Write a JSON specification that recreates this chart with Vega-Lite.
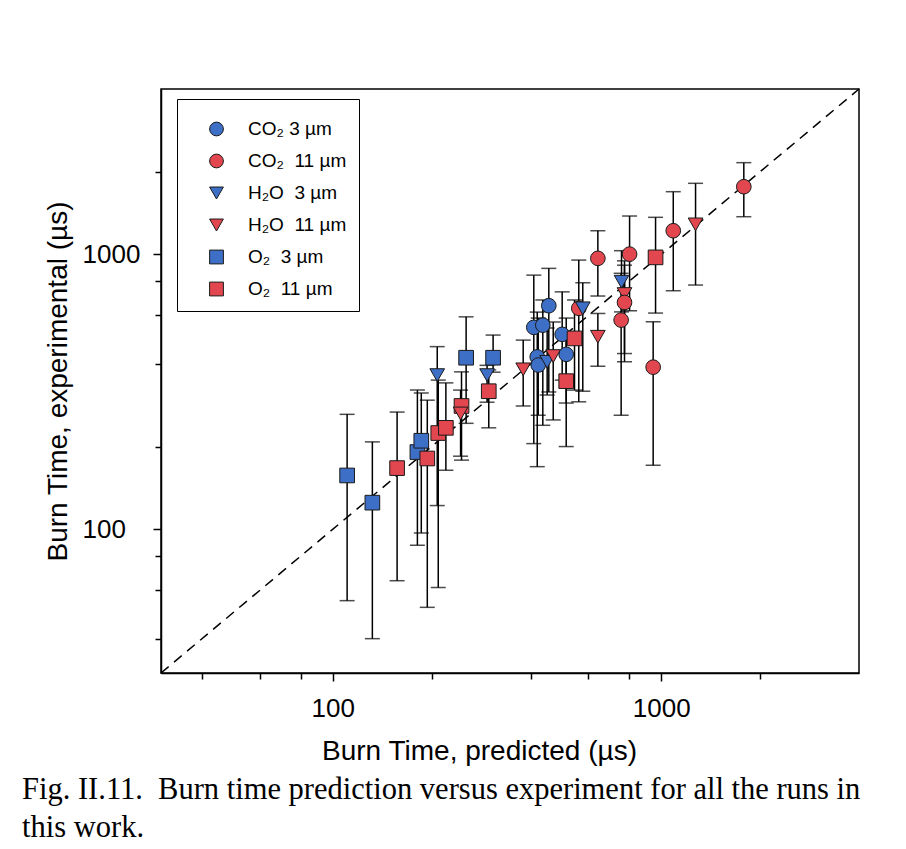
{
  "$schema": "https://vega.github.io/schema/vega-lite/v6.json",
  "width": 698,
  "height": 584,
  "autosize": {"type": "none"},
  "padding": {"left": 161, "top": 89, "right": 47, "bottom": 176},
  "background": "white",
  "config": {
    "font": "Liberation Sans",
    "view": {"stroke": "black", "strokeWidth": 1.5},
    "axis": {
      "grid": false,
      "domainColor": "black",
      "domainWidth": 1.5,
      "tickColor": "black",
      "tickWidth": 1.5,
      "labelColor": "black",
      "labelFont": "Liberation Sans",
      "labelFontSize": 26,
      "labelOverlap": false,
      "labelFlush": false,
      "labelBound": false,
      "titleColor": "black",
      "titleFont": "Liberation Sans",
      "titleFontSize": 28,
      "titleFontWeight": "normal"
    }
  },
  "title": {
    "text": ["Fig. II.11.\u00a0 Burn time prediction versus experiment for all the runs in", "this work."],
    "orient": "bottom",
    "anchor": "start",
    "frame": "group",
    "font": "Liberation Serif",
    "fontSize": 30.5,
    "fontWeight": "normal",
    "color": "black",
    "lineHeight": 38,
    "dx": -139,
    "offset": 10
  },
  "datasets": {
    "runs": [
      {"series": "O₂\u00a0 3 µm", "x": 110.6, "y": 157, "lo": 55, "hi": 262},
      {"series": "O₂\u00a0 3 µm", "x": 132, "y": 125, "lo": 40, "hi": 208},
      {"series": "O₂\u00a0 11 µm", "x": 157, "y": 167, "lo": 65, "hi": 267},
      {"series": "O₂\u00a0 3 µm", "x": 181, "y": 191, "lo": 87.5, "hi": 321},
      {"series": "O₂\u00a0 3 µm", "x": 186, "y": 210, "lo": 97, "hi": 313},
      {"series": "O₂\u00a0 11 µm", "x": 194, "y": 181, "lo": 52, "hi": 295},
      {"series": "O₂\u00a0 11 µm", "x": 209.5, "y": 224, "lo": 61.4, "hi": 349},
      {"series": "O₂\u00a0 11 µm", "x": 221, "y": 234, "lo": 164, "hi": 341},
      {"series": "H₂O\u00a0 3 µm", "x": 208, "y": 364, "lo": 122, "hi": 462},
      {"series": "O₂\u00a0 11 µm", "x": 246.6, "y": 281, "lo": 178.5, "hi": 374},
      {"series": "H₂O\u00a0 11 µm", "x": 245, "y": 264, "lo": 184.5, "hi": 321},
      {"series": "O₂\u00a0 3 µm", "x": 254.7, "y": 421, "lo": 243, "hi": 593},
      {"series": "O₂\u00a0 3 µm", "x": 307.7, "y": 421, "lo": 373, "hi": 509},
      {"series": "H₂O\u00a0 3 µm", "x": 295, "y": 364, "lo": 290, "hi": 395},
      {"series": "O₂\u00a0 11 µm", "x": 298.5, "y": 318, "lo": 234, "hi": 380},
      {"series": "H₂O\u00a0 11 µm", "x": 380, "y": 382, "lo": 281, "hi": 488},
      {"series": "CO₂ 3 µm", "x": 454.7, "y": 651, "lo": 316, "hi": 890},
      {"series": "CO₂ 3 µm", "x": 409.3, "y": 543, "lo": 205, "hi": 841},
      {"series": "CO₂ 3 µm", "x": 436, "y": 553, "lo": 239, "hi": 683},
      {"series": "CO₂ 3 µm", "x": 419.3, "y": 424, "lo": 169, "hi": 617},
      {"series": "CO₂ 3 µm", "x": 422.2, "y": 396, "lo": 260, "hi": 587},
      {"series": "H₂O\u00a0 3 µm", "x": 449.5, "y": 407, "lo": 308, "hi": 540},
      {"series": "H₂O\u00a0 11 µm", "x": 469, "y": 427, "lo": 250, "hi": 568},
      {"series": "CO₂ 3 µm", "x": 499.4, "y": 512, "lo": 349, "hi": 731},
      {"series": "CO₂ 3 µm", "x": 513.7, "y": 433, "lo": 288, "hi": 587},
      {"series": "O₂\u00a0 11 µm", "x": 544.5, "y": 495, "lo": 321, "hi": 683},
      {"series": "O₂\u00a0 11 µm", "x": 513.7, "y": 346, "lo": 200, "hi": 488},
      {"series": "CO₂\u00a0 11 µm", "x": 561, "y": 637, "lo": 291, "hi": 954},
      {"series": "H₂O\u00a0 3 µm", "x": 577, "y": 637, "lo": 318, "hi": 789},
      {"series": "CO₂\u00a0 11 µm", "x": 641.3, "y": 968, "lo": 706, "hi": 1220},
      {"series": "H₂O\u00a0 11 µm", "x": 641.3, "y": 502, "lo": 392, "hi": 610},
      {"series": "CO₂\u00a0 11 µm", "x": 801, "y": 1003, "lo": 624, "hi": 1380},
      {"series": "H₂O\u00a0 3 µm", "x": 757, "y": 796, "lo": 618, "hi": 1032},
      {"series": "H₂O\u00a0 11 µm", "x": 773, "y": 718, "lo": 436, "hi": 948},
      {"series": "CO₂\u00a0 11 µm", "x": 773, "y": 669, "lo": 407, "hi": 914},
      {"series": "CO₂\u00a0 11 µm", "x": 755, "y": 577, "lo": 260, "hi": 854},
      {"series": "CO₂\u00a0 11 µm", "x": 945, "y": 389, "lo": 171, "hi": 569},
      {"series": "O₂\u00a0 11 µm", "x": 961, "y": 976, "lo": 612, "hi": 1365},
      {"series": "CO₂\u00a0 11 µm", "x": 1088, "y": 1220, "lo": 738, "hi": 1692},
      {"series": "H₂O\u00a0 11 µm", "x": 1272, "y": 1287, "lo": 774, "hi": 1815},
      {"series": "CO₂\u00a0 11 µm", "x": 1784, "y": 1764, "lo": 1372, "hi": 2158}
    ],
    "diag": [{"x": 30, "y": 30}, {"x": 4000, "y": 4000}]
  },
  "layer": [
    {
      "data": {"name": "runs"},
      "mark": {"type": "rule", "color": "black", "strokeWidth": 1.5},
      "encoding": {
        "x": {
          "field": "x", "type": "quantitative",
          "scale": {"type": "log", "domain": [30, 4000], "nice": false, "zero": false},
          "axis": {
            "title": "Burn Time, predicted (µs)",
            "values": [40, 60, 80, 100, 200, 400, 600, 800, 1000, 2000],
            "labelExpr": "datum.value == 100 || datum.value == 1000 ? format(datum.value, 'd') : ''",
            "labelPadding": 14,
            "tickSize": {"condition": {"test": "datum.value == 100 || datum.value == 1000", "value": 8}, "value": 6},
            "titleX": 318,
            "titleY": 86,
            "titleBaseline": "alphabetic",
            "titleAlign": "center"
          }
        },
        "y": {
          "field": "lo", "type": "quantitative",
          "scale": {"type": "log", "domain": [30, 4000], "nice": false, "zero": false},
          "axis": {
            "title": "Burn Time, experimental (µs)",
            "values": [40, 60, 80, 100, 200, 400, 600, 800, 1000, 2000],
            "labelExpr": "datum.value == 100 || datum.value == 1000 ? format(datum.value, 'd') : ''",
            "labelAlign": "left",
            "labelBaseline": "middle",
            "labelPadding": 71,
            "tickSize": {"condition": {"test": "datum.value == 100 || datum.value == 1000", "value": 8}, "value": 6},
            "titleX": -95,
            "titleY": 292,
            "titleAngle": -90,
            "titleBaseline": "alphabetic",
            "titleAlign": "center"
          }
        },
        "y2": {"field": "hi"}
      }
    },
    {
      "data": {"name": "runs"},
      "mark": {"type": "tick", "orient": "horizontal", "color": "black", "thickness": 1.5, "size": 15},
      "encoding": {
        "x": {"field": "x", "type": "quantitative", "title": "Burn Time, predicted (µs)"},
        "y": {"field": "lo", "type": "quantitative", "title": "Burn Time, experimental (µs)"}
      }
    },
    {
      "data": {"name": "runs"},
      "mark": {"type": "tick", "orient": "horizontal", "color": "black", "thickness": 1.5, "size": 15},
      "encoding": {
        "x": {"field": "x", "type": "quantitative", "title": "Burn Time, predicted (µs)"},
        "y": {"field": "hi", "type": "quantitative", "title": "Burn Time, experimental (µs)"}
      }
    },
    {
      "data": {"name": "diag"},
      "mark": {"type": "line", "color": "black", "strokeWidth": 1.5, "strokeDash": [10, 7]},
      "encoding": {
        "x": {"field": "x", "type": "quantitative", "title": "Burn Time, predicted (µs)"},
        "y": {"field": "y", "type": "quantitative", "title": "Burn Time, experimental (µs)"}
      }
    },
    {
      "data": {"name": "runs"},
      "mark": {"type": "point", "filled": true, "size": 215, "opacity": 1, "stroke": "#1a1a1a", "strokeWidth": 1},
      "encoding": {
        "x": {"field": "x", "type": "quantitative", "title": "Burn Time, predicted (µs)"},
        "y": {"field": "y", "type": "quantitative", "title": "Burn Time, experimental (µs)"},
        "color": {
          "field": "series", "type": "nominal",
          "scale": {
            "domain": ["CO₂ 3 µm", "CO₂\u00a0 11 µm", "H₂O\u00a0 3 µm", "H₂O\u00a0 11 µm", "O₂\u00a0 3 µm", "O₂\u00a0 11 µm"],
            "range": ["#3e6fc6", "#e2474f", "#3e6fc6", "#e2474f", "#3e6fc6", "#e2474f"]
          },
          "legend": {
            "title": " ",
            "titleFontSize": 6,
            "titlePadding": 2.5,
            "orient": "none",
            "legendX": 16,
            "legendY": 10,
            "strokeColor": "black",
            "fillColor": "white",
            "padding": 12,
            "symbolOffset": 18,
            "labelOffset": 22,
            "rowPadding": 12,
            "labelFontSize": 19,
            "labelFont": "Liberation Sans",
            "labelColor": "black",
            "symbolSize": 190,
            "symbolStrokeColor": "#1a1a1a",
            "symbolStrokeWidth": 1
          }
        },
        "shape": {
          "field": "series", "type": "nominal",
          "scale": {
            "domain": ["CO₂ 3 µm", "CO₂\u00a0 11 µm", "H₂O\u00a0 3 µm", "H₂O\u00a0 11 µm", "O₂\u00a0 3 µm", "O₂\u00a0 11 µm"],
            "range": ["circle", "circle", "triangle-down", "triangle-down", "square", "square"]
          }
        }
      }
    }
  ]
}
